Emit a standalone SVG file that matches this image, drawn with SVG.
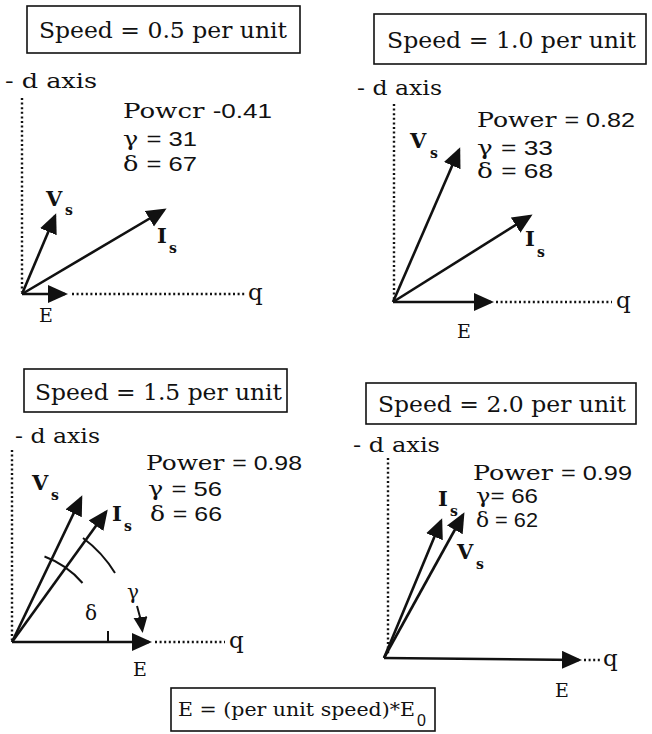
<svg xmlns="http://www.w3.org/2000/svg" width="652" height="734" viewBox="0 0 652 734">
<defs>
<marker id="ah" markerUnits="userSpaceOnUse" markerWidth="24" markerHeight="20" refX="17" refY="9" orient="auto">
<path d="M0,0 L20,9 L0,18 Z" fill="#111"/>
</marker>
<marker id="sh" markerUnits="userSpaceOnUse" markerWidth="20" markerHeight="16" refX="11" refY="7" orient="auto">
<path d="M0,0 L16,7 L0,14 Z" fill="#111"/>
</marker>
<style>
.t{font-family:"DejaVu Serif","Liberation Serif",serif;fill:#111}
.s{font-family:"Liberation Sans",Arial,sans-serif}
.b{font-weight:bold}
.title{font-size:22px}
.ax{font-size:21px}
.q{font-size:23px}
.e{font-size:19px}
.pw{font-size:21px}
.lb{font-size:21px}
.sb{font-size:14px}
.box{fill:none;stroke:#111;stroke-width:1.6}
.vec{stroke:#111;stroke-width:2.6;fill:none;marker-end:url(#ah)}
.dot{stroke:#111;stroke-width:2.4;stroke-dasharray:2 2.6;fill:none}
.arc{stroke:#111;stroke-width:2;fill:none}
</style>
</defs>
<rect width="652" height="734" fill="#fff"/>

<!-- Panel 1 -->
<g id="panel1">
<g id="title1">
<rect class="box" x="27" y="6" width="273" height="47"/>
<text class="t title" x="39" y="38" textLength="248" lengthAdjust="spacingAndGlyphs">Speed = 0.5 per unit</text>
</g>
<text class="t ax" x="5" y="88" textLength="92" lengthAdjust="spacingAndGlyphs">- d axis</text>
<text class="t pw" x="123" y="118" textLength="149" lengthAdjust="spacingAndGlyphs">Powcr <tspan class="s">-0.41</tspan></text>
<text class="t pw" x="123" y="146" textLength="74" lengthAdjust="spacingAndGlyphs">γ <tspan class="s">= 31</tspan></text>
<text class="t pw" x="123" y="171" textLength="74" lengthAdjust="spacingAndGlyphs">δ <tspan class="s">= 67</tspan></text>
<text class="t b lb" x="46" y="206">V</text><text class="t b sb" x="65" y="215">s</text>
<text class="t b lb" x="157" y="243">I</text><text class="t b sb" x="169" y="253">s</text>
<text class="t q" x="248" y="300">q</text>
<text class="t e" x="39" y="322">E</text>
</g>

<!-- Panel 2 -->
<g id="panel2">
<g id="title2">
<rect class="box" x="374" y="14" width="272" height="50"/>
<text class="t title" x="387" y="48" textLength="249" lengthAdjust="spacingAndGlyphs">Speed = 1.0 per unit</text>
</g>
<text class="t ax" x="357" y="95" textLength="85" lengthAdjust="spacingAndGlyphs">- d axis</text>
<text class="t pw" x="477" y="127" textLength="158" lengthAdjust="spacingAndGlyphs">Power <tspan class="s">= 0.82</tspan></text>
<text class="t pw" x="477" y="155" textLength="76" lengthAdjust="spacingAndGlyphs">γ <tspan class="s">= 33</tspan></text>
<text class="t pw" x="477" y="178" textLength="76" lengthAdjust="spacingAndGlyphs">δ <tspan class="s">= 68</tspan></text>
<text class="t b lb" x="410" y="148">V</text><text class="t b sb" x="430" y="158">s</text>
<text class="t b lb" x="525" y="246">I</text><text class="t b sb" x="537" y="257">s</text>
<text class="t q" x="616" y="308">q</text>
<text class="t e" x="457" y="338">E</text>
</g>

<!-- Panel 3 -->
<g id="panel3">
<g id="title3">
<rect class="box" x="24" y="369" width="263" height="43"/>
<text class="t title" x="35" y="400" textLength="247" lengthAdjust="spacingAndGlyphs">Speed = 1.5 per unit</text>
</g>
<text class="t ax" x="15" y="443" textLength="85" lengthAdjust="spacingAndGlyphs">- d axis</text>
<text class="t pw" x="146" y="470" textLength="156" lengthAdjust="spacingAndGlyphs">Power <tspan class="s">= 0.98</tspan></text>
<text class="t pw" x="148" y="496" textLength="74" lengthAdjust="spacingAndGlyphs">γ <tspan class="s">= 56</tspan></text>
<text class="t pw" x="150" y="521" textLength="72" lengthAdjust="spacingAndGlyphs">δ <tspan class="s">= 66</tspan></text>
<text class="t b lb" x="32" y="490">V</text><text class="t b sb" x="51" y="500">s</text>
<text class="t b lb" x="112" y="521">I</text><text class="t b sb" x="124" y="531">s</text>
<text class="t" font-size="20" x="127" y="599">γ</text>
<text class="t" font-size="20" x="85" y="620">δ</text>
<text class="t q" x="229" y="648">q</text>
<text class="t e" x="133" y="676">E</text>
</g>

<!-- Panel 4 -->
<g id="panel4">
<g id="title4">
<rect class="box" x="366" y="383" width="270" height="41"/>
<text class="t title" x="378" y="412" textLength="248" lengthAdjust="spacingAndGlyphs">Speed = 2.0 per unit</text>
</g>
<text class="t ax" x="353" y="452" textLength="87" lengthAdjust="spacingAndGlyphs">- d axis</text>
<text class="t pw" x="473" y="480" textLength="159" lengthAdjust="spacingAndGlyphs">Power <tspan class="s">= 0.99</tspan></text>
<text class="t pw" x="476" y="503" textLength="62" lengthAdjust="spacingAndGlyphs">γ<tspan class="s">= 66</tspan></text>
<text class="t pw" x="476" y="527" textLength="62" lengthAdjust="spacingAndGlyphs">δ<tspan class="s"> = 62</tspan></text>
<text class="t b lb" x="438" y="506">I</text><text class="t b sb" x="450" y="516">s</text>
<text class="t b lb" x="457" y="559">V</text><text class="t b sb" x="476" y="569">s</text>
<text class="t q" x="603" y="666">q</text>
<text class="t e" x="555" y="697">E</text>
</g>

<!-- Formula box -->
<g id="formula">
<rect class="box" x="171" y="688" width="264" height="43"/>
<text class="t" font-size="19" x="178" y="716" textLength="237" lengthAdjust="spacingAndGlyphs">E = (per unit speed)*E</text>
<text class="s" font-size="16" x="417" y="726" fill="#111">0</text>
</g>

<!-- Connectors: axes, vectors, arcs -->
<g id="connectors">
<path class="dot" d="M22,98 V292 M72,294 H245"/>
<line class="vec" x1="22" y1="294" x2="65" y2="294"/>
<line class="vec" x1="22" y1="294" x2="55" y2="216"/>
<line class="vec" x1="22" y1="294" x2="164" y2="210"/>

<path class="dot" d="M394,104 V300 M496,302 H612"/>
<line class="vec" x1="393" y1="302" x2="491" y2="302"/>
<line class="vec" x1="393" y1="302" x2="459" y2="150"/>
<line class="vec" x1="393" y1="302" x2="530" y2="216"/>

<path class="dot" d="M12,450 V640 M155,642 H225"/>
<line class="vec" x1="12" y1="642" x2="149" y2="642"/>
<line class="vec" x1="12" y1="642" x2="81" y2="498"/>
<line class="vec" x1="12" y1="642" x2="106" y2="512"/>
<path class="arc" d="M44.5,556.5 A92,92 0 0 1 82.5,583"/>
<path class="arc" d="M108,631 V642"/>
<path class="arc" d="M83,538 A124,124 0 0 1 115,573"/>
<path class="arc" d="M137,606 A130,130 0 0 1 142,628" marker-end="url(#sh)"/>

<path class="dot" d="M388,458 V655 M584,660 H600"/>
<line class="vec" x1="384" y1="658" x2="579" y2="660"/>
<line class="vec" x1="384" y1="658" x2="441" y2="521"/>
<line class="vec" x1="384" y1="658" x2="463" y2="515"/>
</g>
</svg>
